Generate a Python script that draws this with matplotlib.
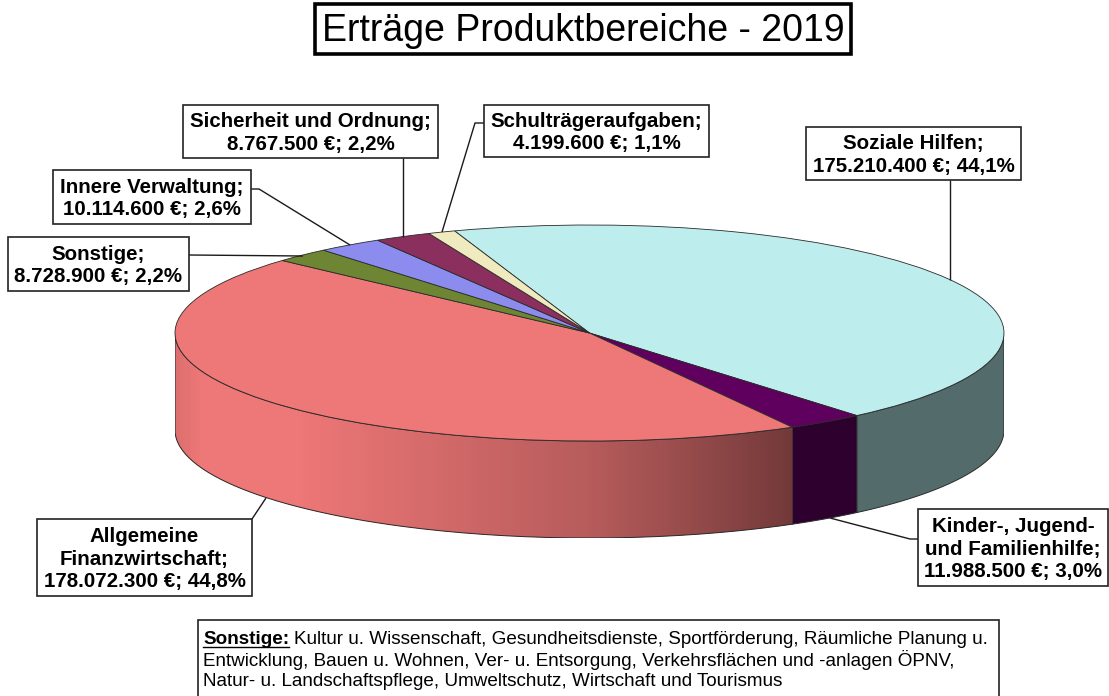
import numpy as np
import matplotlib
matplotlib.use("Agg")
import matplotlib.pyplot as plt
from matplotlib.colors import to_rgb
from matplotlib.patches import Rectangle

plt.rcParams["font.family"] = ["Liberation Sans", "DejaVu Sans"]

# ============================================================
# Data
# ============================================================
categories = ["Soziale Hilfen", "Kinder-, Jugend- und Familienhilfe",
              "Allgemeine Finanzwirtschaft", "Sonstige", "Innere Verwaltung",
              "Sicherheit und Ordnung", "Schulträgeraufgaben"]
values = [175210400, 11988500, 178072300, 8728900, 10114600, 8767500, 4199600]
top_colors = ["#BDEDED", "#5F005F", "#EE7777", "#6E8534", "#8C8CEE", "#8A2F5E", "#EFEBBF"]
side_colors = ["#546B6B", "#2E002E", "#EE7777", "#6E8534", "#8C8CEE", "#8A2F5E", "#EFEBBF"]

labels = ["Soziale Hilfen;\n175.210.400 €; 44,1%",
          "Kinder-, Jugend-\nund Familienhilfe;\n11.988.500 €; 3,0%",
          "Allgemeine\nFinanzwirtschaft;\n178.072.300 €; 44,8%",
          "Sonstige;\n8.728.900 €; 2,2%",
          "Innere Verwaltung;\n10.114.600 €; 2,6%",
          "Sicherheit und Ordnung;\n8.767.500 €; 2,2%",
          "Schulträgeraufgaben;\n4.199.600 €; 1,1%"]

title = "Erträge Produktbereiche - 2019"
note_head = "Sonstige:"
note_lines = ["Kultur u. Wissenschaft, Gesundheitsdienste, Sportförderung, Räumliche Planung u.",
              "Entwicklung, Bauen u. Wohnen, Ver- u. Entsorgung, Verkehrsflächen und -anlagen ÖPNV,",
              "Natur- u. Landschaftspflege, Umweltschutz, Wirtschaft und Tourismus"]

# ============================================================
# Layout (pixels)
# ============================================================
W, H = 1109, 696
PIE_L, PIE_R = 175, 1004
PIE_T, PIE_B = 225, 441
DEPTH = 97
START = 109

# x0, y0, x1, y1 per label, same order as categories
boxes = [(806, 127, 1021, 180), (918, 509, 1108, 586), (37, 519, 252, 596),
         (8, 237, 189, 291), (53, 170, 251, 224), (183, 105, 438, 158),
         (484, 105, 709, 157)]
leaders = [[(950, 180), (950, 280)],
           [(918, 539), (910, 539), (830, 518)],
           [(252, 519), (266, 498)],
           [(189, 255), (303, 256)],
           [(251, 189), (259, 189), (350, 245)],
           [(403, 158), (403, 237)],
           [(484, 123), (475, 123), (442, 232)]]

fig = plt.figure(figsize=(W / 100, H / 100), dpi=100)

# ============================================================
# Pie (squashed by the axes box)
# ============================================================
ax = fig.add_axes([PIE_L / W, 1 - (PIE_B + DEPTH) / H,
                   (PIE_R - PIE_L) / W, (PIE_B + DEPTH - PIE_T) / H])
d = DEPTH / ((PIE_B - PIE_T) / 2)

wedges, _ = ax.pie(values, colors=top_colors, startangle=START, counterclock=False,
                   radius=1, wedgeprops=dict(edgecolor="#2A2A2A", linewidth=0.6, zorder=5))
ax.set_aspect("auto")

# angle edges of the slices, clockwise from START
edges = START - 360 * np.cumsum([0] + values) / np.sum(values)


def shade(x):
    # brightness along the front wall of the red slice, x in axes units
    return np.interp(x, [-1.0, -0.94, -0.7, -0.4, 0.0, 0.25, 0.49],
                     [0.93, 1.0, 1.0, 0.90, 0.77, 0.63, 0.48])


for i in range(len(values)):
    a0, a1 = edges[i], edges[i + 1]
    # only the part of the rim facing the viewer
    lo = max(a1, -180)
    hi = min(a0, 0)
    if lo >= hi:
        continue
    t = np.radians(np.linspace(hi, lo, 120))
    xs = np.cos(t)
    ys = np.sin(t)
    px = np.r_[xs, xs[::-1]]
    py = np.r_[ys, ys[::-1] - d]
    if categories[i].startswith("Allgemeine"):
        poly = ax.fill(px, py, color=side_colors[i], lw=0, zorder=1)[0]
        gx = np.linspace(-1, 1, 415)
        rgb = np.outer(shade(gx), to_rgb(side_colors[i]))[None, :, :]
        im = ax.imshow(rgb, extent=(-1, 1, -1 - d, 1), aspect="auto", zorder=2,
                       interpolation="nearest")
        im.set_clip_path(poly)
        ax.plot(px, py, color="#2A2A2A", lw=0.7, zorder=3)
    else:
        ax.fill(px, py, facecolor=side_colors[i], edgecolor="#2A2A2A", lw=0.7, zorder=2)

ax.set_xlim(-1, 1)
ax.set_ylim(-1 - d, 1)
ax.axis("off")

# ============================================================
# Overlay in pixel coordinates
# ============================================================
ov = fig.add_axes([0, 0, 1, 1], facecolor="none")
ov.set_xlim(0, W)
ov.set_ylim(H, 0)
ov.axis("off")

# Title
ov.add_patch(Rectangle((314.5, 4), 536, 50, fc="white", ec="black", lw=2.6))
ov.text(583.5, 31, title, ha="center", va="center", fontsize=27, color="black")

# Leader lines
for pts in leaders:
    ov.plot([p[0] for p in pts], [p[1] for p in pts], color="#1A1A1A", lw=1.0,
            solid_capstyle="butt")

# Data labels
for (x0, y0, x1, y1), txt in zip(boxes, labels):
    ov.add_patch(Rectangle((x0, y0), x1 - x0, y1 - y0, fc="white", ec="#222222", lw=1.2, zorder=4))
    ov.text((x0 + x1) / 2, (y0 + y1) / 2 + 1.5, txt, ha="center", va="center", fontsize=14.8,
            fontweight="bold", linespacing=1.25, color="black", zorder=5)

# Note box, bottom edge runs off the picture
ov.add_patch(Rectangle((198, 620), 801, 90, fc="white", ec="#222222", lw=1.2, clip_on=True))
head = ov.text(203, 644, note_head, fontsize=13.6, fontweight="bold", va="baseline")
fig.canvas.draw()
bb = head.get_window_extent().transformed(ov.transData.inverted())
ov.plot([bb.x0, bb.x1], [646.5, 646.5], color="black", lw=1.0)
ov.text(bb.x1 + 5, 644, note_lines[0], fontsize=13.6, va="baseline")
ov.text(203, 665.5, note_lines[1], fontsize=13.6, va="baseline")
ov.text(203, 686, note_lines[2], fontsize=13.6, va="baseline")

fig.savefig("out.png", dpi=100)
